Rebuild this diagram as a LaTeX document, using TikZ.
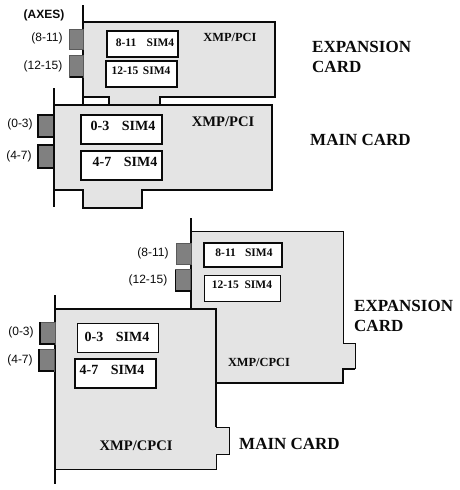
\documentclass[tikz,border=0pt]{standalone}
\usepackage{fontspec}
\setmainfont{Liberation Serif}
\newfontfamily\lsans{Liberation Sans}
\definecolor{cardfill}{RGB}{228,228,228}
\definecolor{portfill}{RGB}{128,128,128}
\definecolor{ink}{RGB}{10,10,10}
\tikzset{
  card/.style={draw=ink,fill=cardfill,line width=1.3pt,line join=miter},
  thincard/.style={draw=ink,fill=cardfill,line width=0.9pt},
  bracket/.style={draw=ink,line width=1.3pt},
  port/.style={draw=ink,fill=portfill,line width=1.3pt},
  softport/.style={draw=portfill!70!black,fill=portfill,line width=0.6pt},
  portedge/.style={draw=ink,line width=1.3pt},
  simbox/.style={draw=ink,fill=white,line width=1.5pt},
  simthin/.style={draw=ink,fill=white,line width=1pt},
  simtext/.style={font=\bfseries\fontsize{11.5}{12}\selectfont,text=ink,anchor=center,inner sep=0pt},
  simbig/.style={font=\bfseries\fontsize{14}{15}\selectfont,text=ink,anchor=center,inner sep=0pt},
  axis/.style={font=\lsans\fontsize{12}{13}\selectfont,text=ink,inner sep=0pt},
  title/.style={font=\bfseries\fontsize{17}{18}\selectfont,text=ink,inner sep=0pt,anchor=west},
  model/.style={font=\bfseries\fontsize{12.4}{13}\selectfont,text=ink,inner sep=0pt},
  modelbig/.style={font=\bfseries\fontsize{14.6}{15}\selectfont,text=ink,inner sep=0pt}
}
\begin{document}
\begin{tikzpicture}[x=1pt,y=-1pt]
\useasboundingbox (0,0) rectangle (459,490);
% top expansion card
\draw[card] (83,22) -- (275,22) -- (275,97) -- (160,97) -- (160,106) -- (109,106) -- (109,97) -- (83,97) -- cycle;
\draw[bracket] (83,5) -- (83,106);
\draw[softport] (69.5,29.5) rectangle (83,49);
\draw[softport] (69.5,55.5) rectangle (83,77);
\draw[portedge] (69.5,77) -- (83,77);
\draw[simbox] (107,31) rectangle (178,57);
\draw[simbox] (106,61) rectangle (177,87);
\node[simtext] (s1) at (145,43) {8-11\hspace{0.9em}SIM4};
\node[simtext] (s2) at (141,71) {12-15\hspace{0.4em}SIM4};
\node[model] (m1) at (230,37) {XMP/PCI};
% top main card
\draw[card] (54,105) -- (272,105) -- (272,190) -- (142,190) -- (142,208) -- (83,208) -- (83,190) -- (54,190) -- cycle;
\draw[bracket] (54,88) -- (54,207);
\draw[port] (38,115) rectangle (54,137);
\draw[port] (38,145) rectangle (54,168);
\draw[simbox,line width=1.2pt] (81,115) rectangle (162,144);
\draw[simbox,line width=1.2pt] (81,151) rectangle (162,180);
\node[simbig] (s3) at (123,126) {0-3\hspace{0.9em}SIM4};
\node[simbig] (s4) at (125,162) {4-7\hspace{0.9em}SIM4};
\node[modelbig] (m2) at (223,122) {XMP/PCI};
% bottom expansion card
\draw[thincard] (191,231) -- (343,231) -- (343,343) -- (355,343) -- (355,368) -- (343,368) -- (343,383) -- (191,383) -- cycle;
\draw[draw=ink,line width=1.4pt] (216,383) -- (343,383) -- (343,369) -- (355,369);
\draw[bracket] (191,218) -- (191,310);
\draw[softport] (176,243) rectangle (191,264.5);
\draw[softport] (175.5,269.5) rectangle (190.5,291);
\draw[portedge] (190.5,291) -- (175.5,291) -- (175.5,270);
\draw[simbox] (204,243) rectangle (282,267);
\draw[simthin] (204,275) rectangle (280,301);
\node[simtext] (s5) at (244,253) {8-11\hspace{0.8em}SIM4};
\node[simtext] (s6) at (242,285) {12-15\hspace{0.5em}SIM4};
\node[model] (m3) at (259,362) {XMP/CPCI};
% bottom main card
\draw[thincard] (55,309) -- (216,309) -- (216,427) -- (229,427) -- (229,454) -- (216,454) -- (216,469) -- (55,469) -- cycle;
\draw[draw=ink,line width=1.4pt] (55,309) -- (216,309) -- (216,427);
\draw[bracket] (55,295) -- (55,484);
\draw[softport] (40,322) rectangle (55,344);
\draw[portedge] (55,344) -- (40,344) -- (40,322);
\draw[softport] (39,349) rectangle (54,371);
\draw[portedge] (54,371) -- (39,371) -- (39,349);
\draw[simthin] (77,323) rectangle (158,352);
\draw[simbox] (75,359) rectangle (156,388);
\node[simbig] (s7) at (117,337) {0-3\hspace{0.9em}SIM4};
\node[simbig] (s8) at (112,370) {4-7\hspace{0.9em}SIM4};
\node[modelbig] (m4) at (136,446) {XMP/CPCI};
% axis labels
\node[font=\lsans\bfseries\fontsize{12}{13}\selectfont,text=ink,inner sep=0pt] (ax) at (44,15) {(AXES)};
\node[axis] (a1) at (47,38) {(8-11)};
\node[axis] (a2) at (43,66) {(12-15)};
\node[axis] (a3) at (20,124) {(0-3)};
\node[axis] (a4) at (19,156) {(4-7)};
\node[axis] (a5) at (153,253) {(8-11)};
\node[axis] (a6) at (148,280) {(12-15)};
\node[axis] (a7) at (21,332) {(0-3)};
\node[axis] (a8) at (20,360) {(4-7)};
% titles
\node[title] (t1) at (312,47) {EXPANSION};
\node[title] (t2) at (312,67) {CARD};
\node[title] (t3) at (310,140) {MAIN CARD};
\node[title] (t4) at (354,306) {EXPANSION};
\node[title] (t5) at (354,326) {CARD};
\node[title] (t6) at (239,444) {MAIN CARD};
\end{tikzpicture}
\end{document}
